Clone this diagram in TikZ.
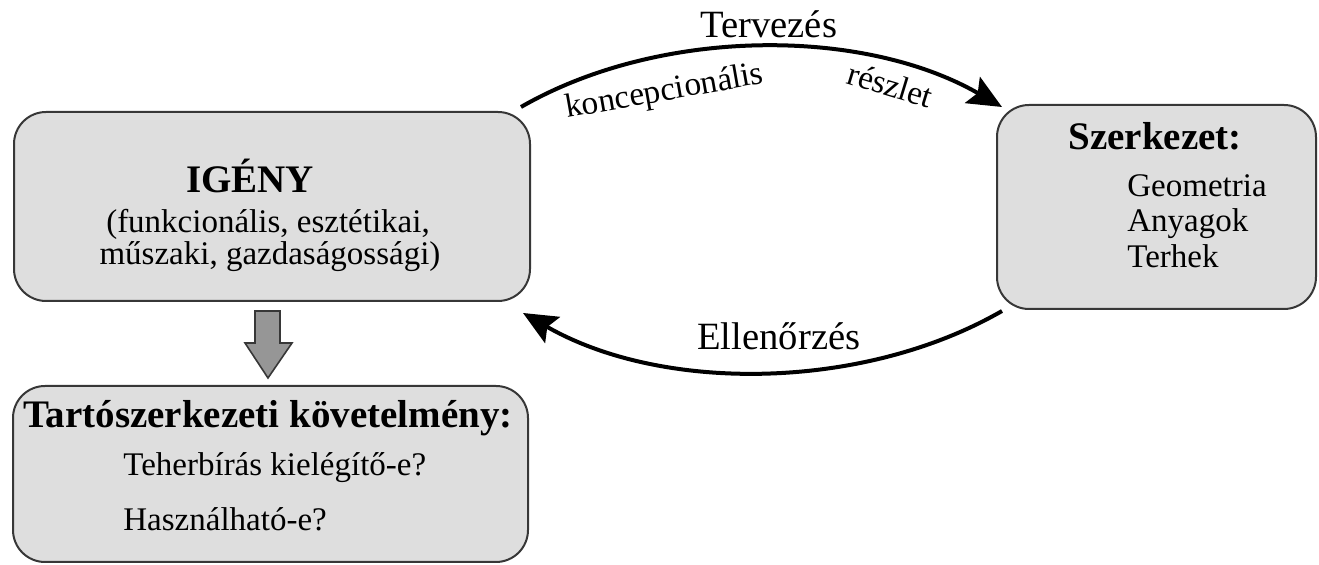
\documentclass[tikz,border=0pt]{standalone}
\usepackage{fontspec}
\setmainfont{Liberation Serif}
\usetikzlibrary{arrows.meta,positioning}
\definecolor{boxfill}{RGB}{222,222,222}
\definecolor{boxline}{RGB}{55,55,55}
\definecolor{arrowgray}{RGB}{150,150,150}

\begin{document}
\begin{tikzpicture}[x=0.5pt,y=-0.5pt,
  box/.style={draw=boxline,line width=1pt,fill=boxfill,rounded corners=16pt,inner sep=0pt},
  head/.style={font=\fontsize{19.5}{23}\selectfont\bfseries,inner sep=0pt},
  txt/.style={font=\fontsize{16.5}{20}\selectfont,inner sep=0pt},
  lbl/.style={font=\fontsize{19.3}{23}\selectfont,inner sep=0pt},
  sublbl/.style={font=\fontsize{16.7}{20}\selectfont,inner sep=0pt},
  flow/.style={line width=2pt,-{Stealth[length=17pt,width=15pt,inset=3pt]}},
  fat arrow/.style={draw=boxline,line width=0.8pt,fill=arrowgray}]
  \useasboundingbox (0,0) rectangle (1319,565);
  % boxes
  \node[box,minimum width=258pt,minimum height=94.5pt] (igeny) at (272,206.5) {};
  \node[box,minimum width=159.5pt,minimum height=102pt] (szerk) at (1156.5,207) {};
  \node[box,minimum width=257.5pt,minimum height=88pt] (kovet) at (270.5,474) {};
  % texts
  \node[head,anchor=base] (igenyhead) at (250,193) {IGÉNY};
  \node[txt,anchor=base] (igeny1) at (268,233) {(funkcionális, esztétikai,};
  \node[txt,anchor=base] (igeny2) at (270,265) {műszaki, gazdaságossági)};
  \node[head,anchor=base west] (szerkhead) at (1068,150) {Szerkezet:};
  \node[txt,anchor=base west] (geo) at (1127,197) {Geometria};
  \node[txt,anchor=base west] (anyag) at (1127,232) {Anyagok};
  \node[txt,anchor=base west] (terh) at (1127,268) {Terhek};
  \node[head,anchor=base west] (kovethead) at (23,428) {Tartószerkezeti követelmény:};
  \node[txt,anchor=base west] (kovet1) at (123,476) {Teherbírás kielégítő-e?};
  \node[txt,anchor=base west] (kovet2) at (123,531) {Használható-e?};
  % cycle
  \draw[flow] ([shift={(-10,-4)}]igeny.north east) .. controls +(139,-80) and +(-139,-80) .. ([shift={(6,3)}]szerk.north west);
  \draw[flow] ([shift={(6,1)}]szerk.south west) .. controls +(-139,80) and +(139,80) .. ([shift={(-8,11)}]igeny.south east);
  \node[lbl,anchor=base west] (tervezes) at (700,38) {Tervezés};
  \node[sublbl,anchor=base west,rotate=10] (koncep) at (567,118) {koncepcionális};
  \node[sublbl,anchor=base west,rotate=-17] (reszlet) at (845,83) {részlet};
  \node[lbl,anchor=base west] (ellenorzes) at (697,350) {Ellenőrzés};
  % down arrow
  \draw[fat arrow] ([shift={(-17,9)}]igeny.south) -- ++(25,0) -- ++(0,32) -- ++(12,0)
    -- ++(-24,35) -- ++(-23,-35) -- ++(10,0) -- cycle;
\end{tikzpicture}
\end{document}
